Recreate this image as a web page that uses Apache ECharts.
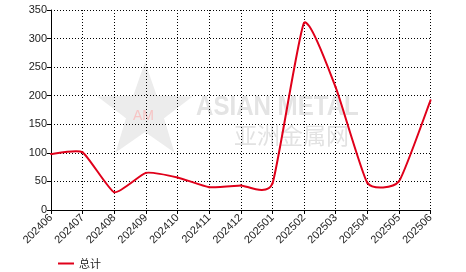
<!DOCTYPE html>
<html><head><meta charset="utf-8">
<script src="https://cdn.jsdelivr.net/npm/echarts@6/dist/echarts.min.js"></script>
<style>html,body{margin:0;padding:0;background:#fff}#c{width:466px;height:272px}</style>
</head><body><div id="c"></div>
<script>
const categories = ['202406','202407','202408','202409','202410','202411','202412','202501','202502','202503','202504','202505','202506'];
const totalValues = [98, 101, 31, 65, 57, 40, 43, 46, 327, 215, 48, 50, 192];
const seriesName = '总计';
const lineColor = '#e0001a';

const chart = echarts.init(document.getElementById('c'), null, {renderer: 'canvas'});
const font = '"Liberation Sans", Arial, sans-serif';

// faint watermark star
const starPts = [];
for (let j = 0; j < 10; j++) {
  const r = j % 2 === 0 ? 50 : 20;
  const a = -Math.PI / 2 + j * Math.PI / 5;
  starPts.push([145 + r * Math.cos(a), 112 + r * Math.sin(a)]);
}

const K = 0.082; // spline handle factor
function renderSeg(params, api) {
  const n = totalValues.length;
  const i = params.dataIndex;
  if (i >= n - 1) return null;
  const P = j => { j = Math.max(0, Math.min(n - 1, j)); return api.coord([j, totalValues[j]]); };
  const p0 = P(i - 1), p1 = P(i), p2 = P(i + 1), p3 = P(i + 2);
  return {
    type: 'bezierCurve',
    shape: {
      x1: p1[0], y1: p1[1], x2: p2[0], y2: p2[1],
      cpx1: p1[0] + (p2[0] - p0[0]) * K, cpy1: p1[1] + (p2[1] - p0[1]) * K,
      cpx2: p2[0] - (p3[0] - p1[0]) * K, cpy2: p2[1] - (p3[1] - p1[1]) * K
    },
    style: {stroke: lineColor, lineWidth: 2, fill: null, lineCap: 'round'}
  };
}

chart.setOption({
  animation: false,
  backgroundColor: '#fff',
  graphic: [
    {type: 'polygon', z: -10, silent: true, shape: {points: starPts}, style: {fill: '#ececec'}},
    {type: 'text', z: -10, silent: true, left: 133, top: 109,
     style: {text: 'AM', fill: '#f7c4c4', font: '14px ' + font}},
    {type: 'text', z: -10, silent: true, x: 196, y: 93, scaleX: 0.86,
     style: {text: 'ASIAN METAL', fill: '#e4e4e4', font: 'bold 28px ' + font}},
    {type: 'text', z: -10, silent: true, x: 234, y: 124,
     style: {text: '亚洲金属网', fill: '#e2e2e2', font: '23px "Noto Sans CJK SC", sans-serif'}}
  ],
  grid: {left: 51, right: 35.5, top: 10, bottom: 62, containLabel: false},
  legend: {
    left: 53, top: 253, itemWidth: 16, itemHeight: 12, itemGap: 10,
    icon: 'path://M0,5 L16,5 L16,7 L0,7 Z',
    textStyle: {fontSize: 11, color: '#222', fontFamily: '"Noto Sans CJK SC", sans-serif'},
    data: [{name: seriesName, itemStyle: {color: lineColor}}]
  },
  xAxis: {
    type: 'category', data: categories, boundaryGap: false,
    axisLine: {lineStyle: {color: '#000', width: 1}},
    axisTick: {show: true, alignWithLabel: true, length: 4, lineStyle: {color: '#000'}},
    axisLabel: {rotate: 45, fontSize: 11, color: '#222', fontFamily: font, margin: 6, interval: 0},
    splitLine: {show: true, lineStyle: {color: '#000', type: [1, 2], width: 1}}
  },
  yAxis: {
    type: 'value', min: 0, max: 350, interval: 50,
    axisLine: {show: true, lineStyle: {color: '#000', width: 1}},
    axisTick: {show: true, length: 4, lineStyle: {color: '#000'}},
    axisLabel: {fontSize: 11, color: '#222', fontFamily: font, margin: 4},
    splitLine: {show: true, lineStyle: {color: '#000', type: [1, 2], width: 1}}
  },
  series: [{
    name: seriesName, type: 'custom',
    data: totalValues.map((v, i) => [i, v]),
    encode: {x: 0, y: 1},
    renderItem: renderSeg,
    itemStyle: {color: lineColor},
    z: 5
  }]
});
</script></body></html>
